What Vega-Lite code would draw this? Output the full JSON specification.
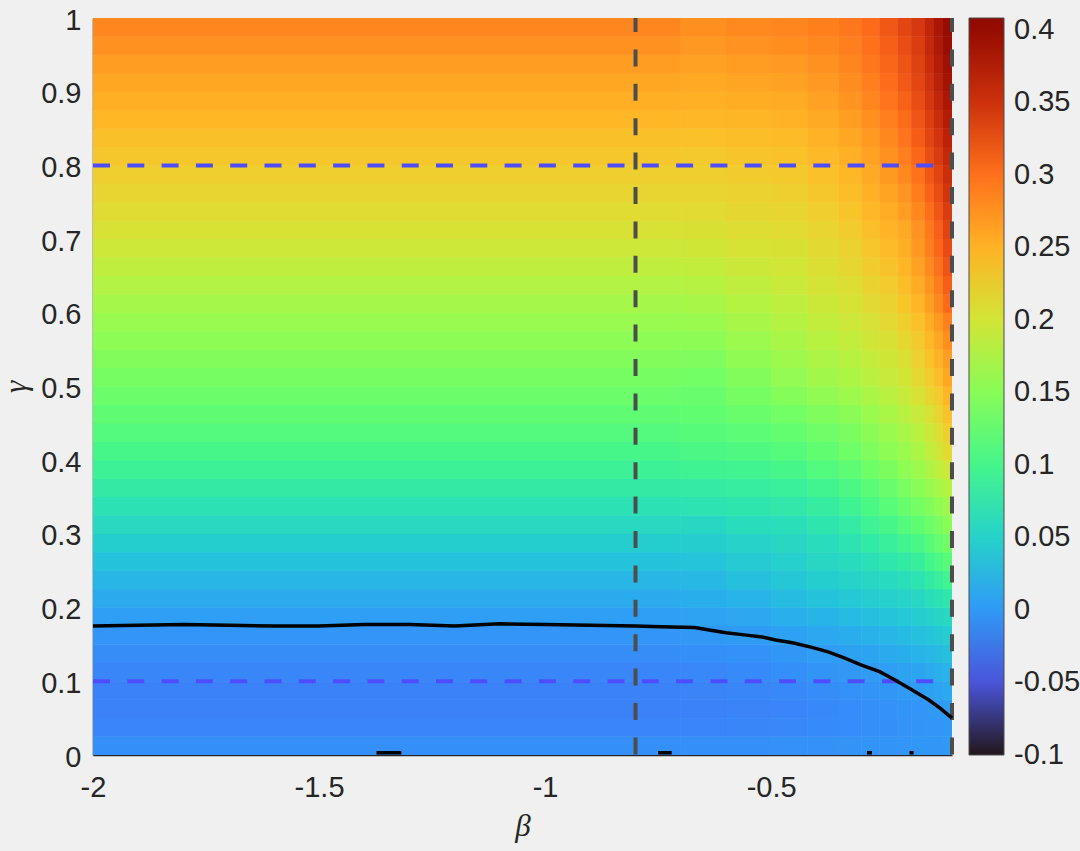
{
"$schema": "https://vega.github.io/schema/vega-lite/v6.json",
"width": 859, "height": 737,
"autosize": {"type": "none"},
"padding": {"left": 93, "top": 18, "right": 128, "bottom": 96},
"background": "#f0f0f0",
"config": {"view": {"stroke": null}, "font": "Liberation Sans", "legend": {"gradientVerticalMaxLength": 800}},
"datasets": {
"cols": [{"c":0,"b0":-2,"b1":-0.7},{"c":1,"b0":-0.7,"b1":-0.6},{"c":2,"b0":-0.6,"b1":-0.5},{"c":3,"b0":-0.5,"b1":-0.42},{"c":4,"b0":-0.42,"b1":-0.35},{"c":5,"b0":-0.35,"b1":-0.3},{"c":6,"b0":-0.3,"b1":-0.26},{"c":7,"b0":-0.26,"b1":-0.22},{"c":8,"b0":-0.22,"b1":-0.19},{"c":9,"b0":-0.19,"b1":-0.16},{"c":10,"b0":-0.16,"b1":-0.14},{"c":11,"b0":-0.14,"b1":-0.12},{"c":12,"b0":-0.12,"b1":-0.1}],
"rows": [{"r":0,"g0":0,"g1":0.025},{"r":1,"g0":0.025,"g1":0.05},{"r":2,"g0":0.05,"g1":0.075},{"r":3,"g0":0.075,"g1":0.1},{"r":4,"g0":0.1,"g1":0.125},{"r":5,"g0":0.125,"g1":0.15},{"r":6,"g0":0.15,"g1":0.175},{"r":7,"g0":0.175,"g1":0.2},{"r":8,"g0":0.2,"g1":0.225},{"r":9,"g0":0.225,"g1":0.25},{"r":10,"g0":0.25,"g1":0.275},{"r":11,"g0":0.275,"g1":0.3},{"r":12,"g0":0.3,"g1":0.325},{"r":13,"g0":0.325,"g1":0.35},{"r":14,"g0":0.35,"g1":0.375},{"r":15,"g0":0.375,"g1":0.4},{"r":16,"g0":0.4,"g1":0.425},{"r":17,"g0":0.425,"g1":0.45},{"r":18,"g0":0.45,"g1":0.475},{"r":19,"g0":0.475,"g1":0.5},{"r":20,"g0":0.5,"g1":0.525},{"r":21,"g0":0.525,"g1":0.55},{"r":22,"g0":0.55,"g1":0.575},{"r":23,"g0":0.575,"g1":0.6},{"r":24,"g0":0.6,"g1":0.625},{"r":25,"g0":0.625,"g1":0.65},{"r":26,"g0":0.65,"g1":0.675},{"r":27,"g0":0.675,"g1":0.7},{"r":28,"g0":0.7,"g1":0.725},{"r":29,"g0":0.725,"g1":0.75},{"r":30,"g0":0.75,"g1":0.775},{"r":31,"g0":0.775,"g1":0.8},{"r":32,"g0":0.8,"g1":0.825},{"r":33,"g0":0.825,"g1":0.85},{"r":34,"g0":0.85,"g1":0.875},{"r":35,"g0":0.875,"g1":0.9},{"r":36,"g0":0.9,"g1":0.925},{"r":37,"g0":0.925,"g1":0.95},{"r":38,"g0":0.95,"g1":0.975},{"r":39,"g0":0.975,"g1":1}],
"cells": [
{"r":0,"c":0,"v":-0.008},{"r":0,"c":1,"v":-0.008},{"r":0,"c":2,"v":-0.007},{"r":0,"c":3,"v":-0.006},{"r":0,"c":4,"v":-0.006},{"r":0,"c":5,"v":-0.005},{"r":0,"c":6,"v":-0.004},{"r":0,"c":7,"v":-0.004},{"r":0,"c":8,"v":-0.003},{"r":0,"c":9,"v":-0.002},{"r":0,"c":10,"v":-0.002},{"r":0,"c":11,"v":-0.002},{"r":0,"c":12,"v":0},
{"r":1,"c":0,"v":-0.015},{"r":1,"c":1,"v":-0.015},{"r":1,"c":2,"v":-0.014},{"r":1,"c":3,"v":-0.013},{"r":1,"c":4,"v":-0.011},{"r":1,"c":5,"v":-0.01},{"r":1,"c":6,"v":-0.008},{"r":1,"c":7,"v":-0.007},{"r":1,"c":8,"v":-0.005},{"r":1,"c":9,"v":-0.004},{"r":1,"c":10,"v":-0.003},{"r":1,"c":11,"v":-0.003},{"r":1,"c":12,"v":0},
{"r":2,"c":0,"v":-0.018},{"r":2,"c":1,"v":-0.017},{"r":2,"c":2,"v":-0.016},{"r":2,"c":3,"v":-0.015},{"r":2,"c":4,"v":-0.012},{"r":2,"c":5,"v":-0.01},{"r":2,"c":6,"v":-0.008},{"r":2,"c":7,"v":-0.006},{"r":2,"c":8,"v":-0.004},{"r":2,"c":9,"v":-0.003},{"r":2,"c":10,"v":-0.001},{"r":2,"c":11,"v":0.001},{"r":2,"c":12,"v":0.004},
{"r":3,"c":0,"v":-0.017},{"r":3,"c":1,"v":-0.016},{"r":3,"c":2,"v":-0.014},{"r":3,"c":3,"v":-0.012},{"r":3,"c":4,"v":-0.009},{"r":3,"c":5,"v":-0.006},{"r":3,"c":6,"v":-0.004},{"r":3,"c":7,"v":-0.002},{"r":3,"c":8,"v":0.001},{"r":3,"c":9,"v":0.002},{"r":3,"c":10,"v":0.006},{"r":3,"c":11,"v":0.009},{"r":3,"c":12,"v":0.013},
{"r":4,"c":0,"v":-0.014},{"r":4,"c":1,"v":-0.013},{"r":4,"c":2,"v":-0.011},{"r":4,"c":3,"v":-0.007},{"r":4,"c":4,"v":-0.004},{"r":4,"c":5,"v":-0.001},{"r":4,"c":6,"v":0.002},{"r":4,"c":7,"v":0.005},{"r":4,"c":8,"v":0.008},{"r":4,"c":9,"v":0.01},{"r":4,"c":10,"v":0.014},{"r":4,"c":11,"v":0.018},{"r":4,"c":12,"v":0.022},
{"r":5,"c":0,"v":-0.009},{"r":5,"c":1,"v":-0.008},{"r":5,"c":2,"v":-0.006},{"r":5,"c":3,"v":-0.002},{"r":5,"c":4,"v":0.003},{"r":5,"c":5,"v":0.007},{"r":5,"c":6,"v":0.01},{"r":5,"c":7,"v":0.014},{"r":5,"c":8,"v":0.017},{"r":5,"c":9,"v":0.021},{"r":5,"c":10,"v":0.025},{"r":5,"c":11,"v":0.029},{"r":5,"c":12,"v":0.033},
{"r":6,"c":0,"v":-0.003},{"r":6,"c":1,"v":-0.001},{"r":6,"c":2,"v":0.002},{"r":6,"c":3,"v":0.007},{"r":6,"c":4,"v":0.012},{"r":6,"c":5,"v":0.016},{"r":6,"c":6,"v":0.02},{"r":6,"c":7,"v":0.024},{"r":6,"c":8,"v":0.028},{"r":6,"c":9,"v":0.032},{"r":6,"c":10,"v":0.036},{"r":6,"c":11,"v":0.04},{"r":6,"c":12,"v":0.044},
{"r":7,"c":0,"v":0.005},{"r":7,"c":1,"v":0.008},{"r":7,"c":2,"v":0.011},{"r":7,"c":3,"v":0.018},{"r":7,"c":4,"v":0.023},{"r":7,"c":5,"v":0.028},{"r":7,"c":6,"v":0.032},{"r":7,"c":7,"v":0.036},{"r":7,"c":8,"v":0.04},{"r":7,"c":9,"v":0.044},{"r":7,"c":10,"v":0.049},{"r":7,"c":11,"v":0.053},{"r":7,"c":12,"v":0.057},
{"r":8,"c":0,"v":0.014},{"r":8,"c":1,"v":0.017},{"r":8,"c":2,"v":0.022},{"r":8,"c":3,"v":0.029},{"r":8,"c":4,"v":0.035},{"r":8,"c":5,"v":0.04},{"r":8,"c":6,"v":0.044},{"r":8,"c":7,"v":0.048},{"r":8,"c":8,"v":0.052},{"r":8,"c":9,"v":0.056},{"r":8,"c":10,"v":0.063},{"r":8,"c":11,"v":0.068},{"r":8,"c":12,"v":0.074},
{"r":9,"c":0,"v":0.024},{"r":9,"c":1,"v":0.026},{"r":9,"c":2,"v":0.033},{"r":9,"c":3,"v":0.039},{"r":9,"c":4,"v":0.046},{"r":9,"c":5,"v":0.051},{"r":9,"c":6,"v":0.055},{"r":9,"c":7,"v":0.059},{"r":9,"c":8,"v":0.064},{"r":9,"c":9,"v":0.069},{"r":9,"c":10,"v":0.079},{"r":9,"c":11,"v":0.087},{"r":9,"c":12,"v":0.095},
{"r":10,"c":0,"v":0.035},{"r":10,"c":1,"v":0.036},{"r":10,"c":2,"v":0.042},{"r":10,"c":3,"v":0.048},{"r":10,"c":4,"v":0.055},{"r":10,"c":5,"v":0.06},{"r":10,"c":6,"v":0.066},{"r":10,"c":7,"v":0.073},{"r":10,"c":8,"v":0.079},{"r":10,"c":9,"v":0.086},{"r":10,"c":10,"v":0.098},{"r":10,"c":11,"v":0.107},{"r":10,"c":12,"v":0.116},
{"r":11,"c":0,"v":0.046},{"r":11,"c":1,"v":0.045},{"r":11,"c":2,"v":0.051},{"r":11,"c":3,"v":0.055},{"r":11,"c":4,"v":0.062},{"r":11,"c":5,"v":0.069},{"r":11,"c":6,"v":0.078},{"r":11,"c":7,"v":0.087},{"r":11,"c":8,"v":0.096},{"r":11,"c":9,"v":0.104},{"r":11,"c":10,"v":0.115},{"r":11,"c":11,"v":0.125},{"r":11,"c":12,"v":0.135},
{"r":12,"c":0,"v":0.057},{"r":12,"c":1,"v":0.056},{"r":12,"c":2,"v":0.061},{"r":12,"c":3,"v":0.064},{"r":12,"c":4,"v":0.072},{"r":12,"c":5,"v":0.08},{"r":12,"c":6,"v":0.092},{"r":12,"c":7,"v":0.102},{"r":12,"c":8,"v":0.112},{"r":12,"c":9,"v":0.121},{"r":12,"c":10,"v":0.131},{"r":12,"c":11,"v":0.14},{"r":12,"c":12,"v":0.15},
{"r":13,"c":0,"v":0.068},{"r":13,"c":1,"v":0.069},{"r":13,"c":2,"v":0.072},{"r":13,"c":3,"v":0.075},{"r":13,"c":4,"v":0.083},{"r":13,"c":5,"v":0.093},{"r":13,"c":6,"v":0.106},{"r":13,"c":7,"v":0.117},{"r":13,"c":8,"v":0.128},{"r":13,"c":9,"v":0.137},{"r":13,"c":10,"v":0.146},{"r":13,"c":11,"v":0.155},{"r":13,"c":12,"v":0.165},
{"r":14,"c":0,"v":0.079},{"r":14,"c":1,"v":0.081},{"r":14,"c":2,"v":0.084},{"r":14,"c":3,"v":0.088},{"r":14,"c":4,"v":0.096},{"r":14,"c":5,"v":0.106},{"r":14,"c":6,"v":0.118},{"r":14,"c":7,"v":0.129},{"r":14,"c":8,"v":0.14},{"r":14,"c":9,"v":0.15},{"r":14,"c":10,"v":0.16},{"r":14,"c":11,"v":0.169},{"r":14,"c":12,"v":0.18},
{"r":15,"c":0,"v":0.091},{"r":15,"c":1,"v":0.094},{"r":15,"c":2,"v":0.097},{"r":15,"c":3,"v":0.102},{"r":15,"c":4,"v":0.111},{"r":15,"c":5,"v":0.12},{"r":15,"c":6,"v":0.132},{"r":15,"c":7,"v":0.142},{"r":15,"c":8,"v":0.153},{"r":15,"c":9,"v":0.163},{"r":15,"c":10,"v":0.174},{"r":15,"c":11,"v":0.185},{"r":15,"c":12,"v":0.197},
{"r":16,"c":0,"v":0.102},{"r":16,"c":1,"v":0.105},{"r":16,"c":2,"v":0.109},{"r":16,"c":3,"v":0.114},{"r":16,"c":4,"v":0.123},{"r":16,"c":5,"v":0.132},{"r":16,"c":6,"v":0.143},{"r":16,"c":7,"v":0.153},{"r":16,"c":8,"v":0.163},{"r":16,"c":9,"v":0.173},{"r":16,"c":10,"v":0.186},{"r":16,"c":11,"v":0.198},{"r":16,"c":12,"v":0.213},
{"r":17,"c":0,"v":0.112},{"r":17,"c":1,"v":0.115},{"r":17,"c":2,"v":0.119},{"r":17,"c":3,"v":0.124},{"r":17,"c":4,"v":0.133},{"r":17,"c":5,"v":0.142},{"r":17,"c":6,"v":0.152},{"r":17,"c":7,"v":0.162},{"r":17,"c":8,"v":0.172},{"r":17,"c":9,"v":0.182},{"r":17,"c":10,"v":0.195},{"r":17,"c":11,"v":0.207},{"r":17,"c":12,"v":0.225},
{"r":18,"c":0,"v":0.121},{"r":18,"c":1,"v":0.123},{"r":18,"c":2,"v":0.129},{"r":18,"c":3,"v":0.135},{"r":18,"c":4,"v":0.144},{"r":18,"c":5,"v":0.152},{"r":18,"c":6,"v":0.162},{"r":18,"c":7,"v":0.172},{"r":18,"c":8,"v":0.182},{"r":18,"c":9,"v":0.191},{"r":18,"c":10,"v":0.205},{"r":18,"c":11,"v":0.218},{"r":18,"c":12,"v":0.237},
{"r":19,"c":0,"v":0.13},{"r":19,"c":1,"v":0.128},{"r":19,"c":2,"v":0.138},{"r":19,"c":3,"v":0.147},{"r":19,"c":4,"v":0.156},{"r":19,"c":5,"v":0.164},{"r":19,"c":6,"v":0.173},{"r":19,"c":7,"v":0.182},{"r":19,"c":8,"v":0.192},{"r":19,"c":9,"v":0.203},{"r":19,"c":10,"v":0.217},{"r":19,"c":11,"v":0.229},{"r":19,"c":12,"v":0.248},
{"r":20,"c":0,"v":0.138},{"r":20,"c":1,"v":0.135},{"r":20,"c":2,"v":0.146},{"r":20,"c":3,"v":0.157},{"r":20,"c":4,"v":0.166},{"r":20,"c":5,"v":0.174},{"r":20,"c":6,"v":0.183},{"r":20,"c":7,"v":0.191},{"r":20,"c":8,"v":0.2},{"r":20,"c":9,"v":0.214},{"r":20,"c":10,"v":0.228},{"r":20,"c":11,"v":0.24},{"r":20,"c":12,"v":0.259},
{"r":21,"c":0,"v":0.146},{"r":21,"c":1,"v":0.144},{"r":21,"c":2,"v":0.154},{"r":21,"c":3,"v":0.164},{"r":21,"c":4,"v":0.173},{"r":21,"c":5,"v":0.181},{"r":21,"c":6,"v":0.19},{"r":21,"c":7,"v":0.198},{"r":21,"c":8,"v":0.208},{"r":21,"c":9,"v":0.222},{"r":21,"c":10,"v":0.237},{"r":21,"c":11,"v":0.25},{"r":21,"c":12,"v":0.268},
{"r":22,"c":0,"v":0.153},{"r":22,"c":1,"v":0.153},{"r":22,"c":2,"v":0.163},{"r":22,"c":3,"v":0.172},{"r":22,"c":4,"v":0.181},{"r":22,"c":5,"v":0.189},{"r":22,"c":6,"v":0.198},{"r":22,"c":7,"v":0.206},{"r":22,"c":8,"v":0.216},{"r":22,"c":9,"v":0.23},{"r":22,"c":10,"v":0.245},{"r":22,"c":11,"v":0.26},{"r":22,"c":12,"v":0.278},
{"r":23,"c":0,"v":0.161},{"r":23,"c":1,"v":0.162},{"r":23,"c":2,"v":0.171},{"r":23,"c":3,"v":0.179},{"r":23,"c":4,"v":0.188},{"r":23,"c":5,"v":0.196},{"r":23,"c":6,"v":0.205},{"r":23,"c":7,"v":0.214},{"r":23,"c":8,"v":0.225},{"r":23,"c":9,"v":0.238},{"r":23,"c":10,"v":0.255},{"r":23,"c":11,"v":0.27},{"r":23,"c":12,"v":0.288},
{"r":24,"c":0,"v":0.169},{"r":24,"c":1,"v":0.171},{"r":24,"c":2,"v":0.179},{"r":24,"c":3,"v":0.186},{"r":24,"c":4,"v":0.195},{"r":24,"c":5,"v":0.203},{"r":24,"c":6,"v":0.213},{"r":24,"c":7,"v":0.222},{"r":24,"c":8,"v":0.233},{"r":24,"c":9,"v":0.248},{"r":24,"c":10,"v":0.265},{"r":24,"c":11,"v":0.283},{"r":24,"c":12,"v":0.305},
{"r":25,"c":0,"v":0.178},{"r":25,"c":1,"v":0.18},{"r":25,"c":2,"v":0.187},{"r":25,"c":3,"v":0.193},{"r":25,"c":4,"v":0.201},{"r":25,"c":5,"v":0.209},{"r":25,"c":6,"v":0.22},{"r":25,"c":7,"v":0.229},{"r":25,"c":8,"v":0.24},{"r":25,"c":9,"v":0.256},{"r":25,"c":10,"v":0.274},{"r":25,"c":11,"v":0.292},{"r":25,"c":12,"v":0.313},
{"r":26,"c":0,"v":0.187},{"r":26,"c":1,"v":0.189},{"r":26,"c":2,"v":0.195},{"r":26,"c":3,"v":0.199},{"r":26,"c":4,"v":0.207},{"r":26,"c":5,"v":0.216},{"r":26,"c":6,"v":0.227},{"r":26,"c":7,"v":0.236},{"r":26,"c":8,"v":0.247},{"r":26,"c":9,"v":0.264},{"r":26,"c":10,"v":0.282},{"r":26,"c":11,"v":0.3},{"r":26,"c":12,"v":0.321},
{"r":27,"c":0,"v":0.196},{"r":27,"c":1,"v":0.198},{"r":27,"c":2,"v":0.203},{"r":27,"c":3,"v":0.206},{"r":27,"c":4,"v":0.213},{"r":27,"c":5,"v":0.222},{"r":27,"c":6,"v":0.233},{"r":27,"c":7,"v":0.243},{"r":27,"c":8,"v":0.253},{"r":27,"c":9,"v":0.27},{"r":27,"c":10,"v":0.29},{"r":27,"c":11,"v":0.307},{"r":27,"c":12,"v":0.328},
{"r":28,"c":0,"v":0.204},{"r":28,"c":1,"v":0.206},{"r":28,"c":2,"v":0.21},{"r":28,"c":3,"v":0.212},{"r":28,"c":4,"v":0.219},{"r":28,"c":5,"v":0.228},{"r":28,"c":6,"v":0.239},{"r":28,"c":7,"v":0.249},{"r":28,"c":8,"v":0.258},{"r":28,"c":9,"v":0.275},{"r":28,"c":10,"v":0.294},{"r":28,"c":11,"v":0.312},{"r":28,"c":12,"v":0.334},
{"r":29,"c":0,"v":0.211},{"r":29,"c":1,"v":0.212},{"r":29,"c":2,"v":0.216},{"r":29,"c":3,"v":0.218},{"r":29,"c":4,"v":0.226},{"r":29,"c":5,"v":0.234},{"r":29,"c":6,"v":0.245},{"r":29,"c":7,"v":0.255},{"r":29,"c":8,"v":0.266},{"r":29,"c":9,"v":0.283},{"r":29,"c":10,"v":0.302},{"r":29,"c":11,"v":0.319},{"r":29,"c":12,"v":0.34},
{"r":30,"c":0,"v":0.218},{"r":30,"c":1,"v":0.219},{"r":30,"c":2,"v":0.222},{"r":30,"c":3,"v":0.225},{"r":30,"c":4,"v":0.232},{"r":30,"c":5,"v":0.24},{"r":30,"c":6,"v":0.251},{"r":30,"c":7,"v":0.262},{"r":30,"c":8,"v":0.274},{"r":30,"c":9,"v":0.291},{"r":30,"c":10,"v":0.31},{"r":30,"c":11,"v":0.326},{"r":30,"c":12,"v":0.346},
{"r":31,"c":0,"v":0.225},{"r":31,"c":1,"v":0.225},{"r":31,"c":2,"v":0.228},{"r":31,"c":3,"v":0.231},{"r":31,"c":4,"v":0.238},{"r":31,"c":5,"v":0.246},{"r":31,"c":6,"v":0.257},{"r":31,"c":7,"v":0.269},{"r":31,"c":8,"v":0.282},{"r":31,"c":9,"v":0.299},{"r":31,"c":10,"v":0.318},{"r":31,"c":11,"v":0.333},{"r":31,"c":12,"v":0.352},
{"r":32,"c":0,"v":0.232},{"r":32,"c":1,"v":0.231},{"r":32,"c":2,"v":0.234},{"r":32,"c":3,"v":0.237},{"r":32,"c":4,"v":0.244},{"r":32,"c":5,"v":0.252},{"r":32,"c":6,"v":0.263},{"r":32,"c":7,"v":0.276},{"r":32,"c":8,"v":0.29},{"r":32,"c":9,"v":0.307},{"r":32,"c":10,"v":0.325},{"r":32,"c":11,"v":0.34},{"r":32,"c":12,"v":0.358},
{"r":33,"c":0,"v":0.239},{"r":33,"c":1,"v":0.238},{"r":33,"c":2,"v":0.241},{"r":33,"c":3,"v":0.243},{"r":33,"c":4,"v":0.25},{"r":33,"c":5,"v":0.259},{"r":33,"c":6,"v":0.27},{"r":33,"c":7,"v":0.283},{"r":33,"c":8,"v":0.297},{"r":33,"c":9,"v":0.314},{"r":33,"c":10,"v":0.332},{"r":33,"c":11,"v":0.347},{"r":33,"c":12,"v":0.364},
{"r":34,"c":0,"v":0.246},{"r":34,"c":1,"v":0.245},{"r":34,"c":2,"v":0.247},{"r":34,"c":3,"v":0.25},{"r":34,"c":4,"v":0.257},{"r":34,"c":5,"v":0.266},{"r":34,"c":6,"v":0.277},{"r":34,"c":7,"v":0.29},{"r":34,"c":8,"v":0.304},{"r":34,"c":9,"v":0.32},{"r":34,"c":10,"v":0.338},{"r":34,"c":11,"v":0.353},{"r":34,"c":12,"v":0.37},
{"r":35,"c":0,"v":0.253},{"r":35,"c":1,"v":0.252},{"r":35,"c":2,"v":0.254},{"r":35,"c":3,"v":0.256},{"r":35,"c":4,"v":0.264},{"r":35,"c":5,"v":0.273},{"r":35,"c":6,"v":0.284},{"r":35,"c":7,"v":0.297},{"r":35,"c":8,"v":0.311},{"r":35,"c":9,"v":0.326},{"r":35,"c":10,"v":0.344},{"r":35,"c":11,"v":0.36},{"r":35,"c":12,"v":0.377},
{"r":36,"c":0,"v":0.26},{"r":36,"c":1,"v":0.258},{"r":36,"c":2,"v":0.261},{"r":36,"c":3,"v":0.263},{"r":36,"c":4,"v":0.27},{"r":36,"c":5,"v":0.28},{"r":36,"c":6,"v":0.29},{"r":36,"c":7,"v":0.303},{"r":36,"c":8,"v":0.317},{"r":36,"c":9,"v":0.331},{"r":36,"c":10,"v":0.349},{"r":36,"c":11,"v":0.365},{"r":36,"c":12,"v":0.383},
{"r":37,"c":0,"v":0.268},{"r":37,"c":1,"v":0.264},{"r":37,"c":2,"v":0.268},{"r":37,"c":3,"v":0.27},{"r":37,"c":4,"v":0.276},{"r":37,"c":5,"v":0.285},{"r":37,"c":6,"v":0.295},{"r":37,"c":7,"v":0.308},{"r":37,"c":8,"v":0.321},{"r":37,"c":9,"v":0.335},{"r":37,"c":10,"v":0.353},{"r":37,"c":11,"v":0.369},{"r":37,"c":12,"v":0.388},
{"r":38,"c":0,"v":0.276},{"r":38,"c":1,"v":0.271},{"r":38,"c":2,"v":0.275},{"r":38,"c":3,"v":0.278},{"r":38,"c":4,"v":0.283},{"r":38,"c":5,"v":0.29},{"r":38,"c":6,"v":0.3},{"r":38,"c":7,"v":0.313},{"r":38,"c":8,"v":0.326},{"r":38,"c":9,"v":0.339},{"r":38,"c":10,"v":0.357},{"r":38,"c":11,"v":0.373},{"r":38,"c":12,"v":0.394},
{"r":39,"c":0,"v":0.284},{"r":39,"c":1,"v":0.277},{"r":39,"c":2,"v":0.282},{"r":39,"c":3,"v":0.285},{"r":39,"c":4,"v":0.289},{"r":39,"c":5,"v":0.295},{"r":39,"c":6,"v":0.305},{"r":39,"c":7,"v":0.318},{"r":39,"c":8,"v":0.331},{"r":39,"c":9,"v":0.343},{"r":39,"c":10,"v":0.36},{"r":39,"c":11,"v":0.377},{"r":39,"c":12,"v":0.4}
],
"contour": [
{"s":"m","b":-2,"g":0.175},{"s":"m","b":-1.9,"g":0.176},{"s":"m","b":-1.8,"g":0.177},{"s":"m","b":-1.7,"g":0.176},{"s":"m","b":-1.6,"g":0.175},{"s":"m","b":-1.5,"g":0.175},{"s":"m","b":-1.4,"g":0.177},{"s":"m","b":-1.3,"g":0.177},{"s":"m","b":-1.2,"g":0.175},{"s":"m","b":-1.1,"g":0.178},{"s":"m","b":-1.0,"g":0.177},{"s":"m","b":-0.9,"g":0.176},{"s":"m","b":-0.8,"g":0.175},{"s":"m","b":-0.744,"g":0.174},{"s":"m","b":-0.67,"g":0.173},{"s":"m","b":-0.6,"g":0.166},{"s":"m","b":-0.56,"g":0.163},{"s":"m","b":-0.52,"g":0.16},{"s":"m","b":-0.49,"g":0.156},{"s":"m","b":-0.45,"g":0.152},{"s":"m","b":-0.41,"g":0.146},{"s":"m","b":-0.374,"g":0.14},{"s":"m","b":-0.34,"g":0.132},{"s":"m","b":-0.3,"g":0.122},{"s":"m","b":-0.26,"g":0.113},{"s":"m","b":-0.227,"g":0.102},{"s":"m","b":-0.19,"g":0.089},{"s":"m","b":-0.152,"g":0.075},{"s":"m","b":-0.125,"g":0.063},{"s":"m","b":-0.1,"g":0.05},
{"s":"a","b":-1.373,"g":0.003},{"s":"a","b":-1.318,"g":0.003},
{"s":"b","b":-0.75,"g":0.003},{"s":"b","b":-0.72,"g":0.003},
{"s":"c","b":-0.288,"g":0.003},{"s":"c","b":-0.277,"g":0.003},
{"s":"d","b":-0.194,"g":0.003},{"s":"d","b":-0.185,"g":0.003}
],
"vlines": [{"b":-0.8},{"b":-0.1}],
"hlines": [{"g":0.8},{"g":0.1}]
},
"layer": [
{
"data": {"name": "cells"},
"transform": [
{"lookup": "c", "from": {"data": {"name": "cols"}, "key": "c", "fields": ["b0", "b1"]}},
{"lookup": "r", "from": {"data": {"name": "rows"}, "key": "r", "fields": ["g0", "g1"]}}
],
"mark": {"type": "rect"},
"encoding": {
"x": {"field": "b0", "type": "quantitative", "title": "β"},
"x2": {"field": "b1"},
"y": {"field": "g0", "type": "quantitative", "title": "γ"},
"y2": {"field": "g1"},
"color": {"field": "v", "type": "quantitative"}
}
},
{
"data": {"name": "cells"},
"transform": [
{"lookup": "c", "from": {"data": {"name": "cols"}, "key": "c", "fields": ["b0", "b1"]}},
{"lookup": "r", "from": {"data": {"name": "rows"}, "key": "r", "fields": ["g0", "g1"]}}
],
"mark": {"type": "rect"},
"encoding": {
"x": {"field": "b0", "type": "quantitative", "title": "β",
 "scale": {"domain": [-2, -0.1], "nice": false, "zero": false},
 "axis": {"values": [-2, -1.5, -1, -0.5], "labelExpr": "toString(datum.value)", "labelFont": "Liberation Sans", "labelFontSize": 29, "labelColor": "#262626", "labelFlush": false, "labelOverlap": false, "ticks": false, "tickSize": 0, "labelPadding": 18, "grid": false, "domainColor": "#262626", "domainWidth": 1.5, "titleFont": "Liberation Serif", "titleFontStyle": "italic", "titleFontWeight": "normal", "titleFontSize": 31, "titleColor": "#262626", "titleX": 429.5, "titleY": 80, "titleBaseline": "alphabetic", "titleAlign": "center"}},
"x2": {"field": "b1"},
"y": {"field": "g0", "type": "quantitative", "title": "γ",
 "scale": {"domain": [0, 1], "nice": false, "zero": false},
 "axis": {"values": [0, 0.1, 0.2, 0.3, 0.4, 0.5, 0.6, 0.7, 0.8, 0.9, 1], "labelExpr": "toString(datum.value)", "labelFont": "Liberation Sans", "labelFontSize": 29, "labelColor": "#262626", "labelFlush": false, "labelOverlap": false, "ticks": false, "tickSize": 0, "labelPadding": 12, "labelBaseline": "middle", "labelOffset": 2, "grid": false, "domainColor": "#262626", "domainWidth": 1.5, "titleFont": "Liberation Serif", "titleFontStyle": "italic", "titleFontWeight": "normal", "titleFontSize": 31, "titleColor": "#262626", "titleX": -68, "titleY": 368.5, "titleAngle": -90, "titleBaseline": "alphabetic", "titleAlign": "center"}},
"y2": {"field": "g1"},
"color": {"field": "v", "type": "quantitative", "scale": {"scheme": "turbo", "domain": [-0.1, 0.408]},
 "legend": {"type": "gradient", "orient": "none", "legendX": 876, "legendY": 0, "direction": "vertical", "title": null, "padding": 0, "gradientLength": 737, "gradientThickness": 35, "gradientStrokeColor": "#4d4d4d", "gradientStrokeWidth": 1, "values": [-0.1, -0.05, 0, 0.05, 0.1, 0.15, 0.2, 0.25, 0.3, 0.35, 0.4], "labelExpr": "toString(datum.value)", "labelFont": "Liberation Sans", "labelFontSize": 29, "labelColor": "#262626", "labelOffset": 10, "labelOverlap": false, "labelBaseline": "middle", "labelAlign": "left",
  "encode": {"labels": {"update": {"baseline": {"value": "middle"}}}}}}
}
},
{
"data": {"name": "hlines"},
"mark": {"type": "rule", "color": "#4d4dff", "strokeWidth": 4, "strokeDash": [17, 17.3]},
"encoding": {
"y": {"field": "g", "type": "quantitative", "title": "γ"},
"x": {"datum": -2}, "x2": {"datum": -0.1}
}
},
{
"data": {"name": "vlines"},
"mark": {"type": "rule", "color": "#4d4d4d", "strokeWidth": 4, "strokeDash": [17, 17.4], "strokeDashOffset": 3},
"encoding": {
"x": {"field": "b", "type": "quantitative", "title": "β"},
"y": {"datum": 1}, "y2": {"datum": 0}
}
},
{
"data": {"name": "contour"},
"mark": {"type": "line", "color": "black", "strokeWidth": 3.5, "strokeCap": "butt"},
"encoding": {
"x": {"field": "b", "type": "quantitative", "title": "β"},
"y": {"field": "g", "type": "quantitative", "title": "γ"},
"detail": {"field": "s"}
}
}
]
}
